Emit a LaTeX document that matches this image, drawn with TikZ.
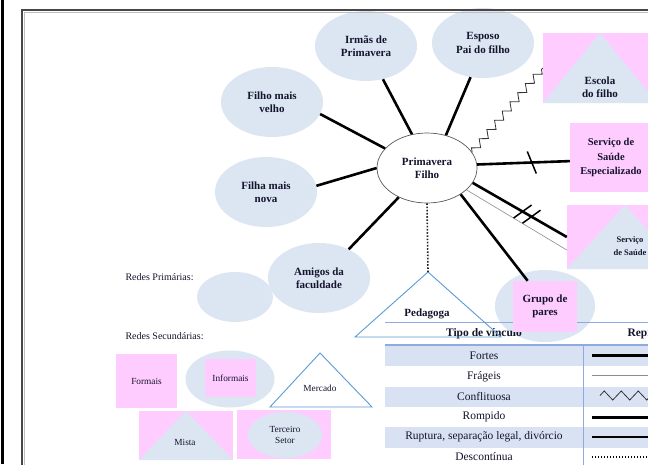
\documentclass[tikz,border=0pt]{standalone}
\usepackage{fontspec}
\setmainfont{Liberation Serif}
\usetikzlibrary{shapes.geometric,decorations.pathmorphing,calc}

\definecolor{bluefill}{RGB}{220,230,242}
\definecolor{pinkfill}{RGB}{255,204,255}
\definecolor{triline}{RGB}{91,155,213}
\definecolor{rowfill}{RGB}{217,226,243}
\definecolor{tblrule}{RGB}{143,170,220}
\definecolor{ink}{RGB}{20,20,45}

\begin{document}
\begin{tikzpicture}[x=1pt,y=-1pt,
  lbl/.style={font=\fontsize{11}{13.5}\selectfont\bfseries, text=ink, align=center},
  small/.style={font=\fontsize{9.3}{10.5}\selectfont, text=ink, align=center},
  cell/.style={font=\fontsize{11.5}{13}\selectfont, text=ink},
  hdr/.style={font=\fontsize{11.5}{13}\selectfont\bfseries, text=ink},
  person/.style={ellipse, fill=bluefill, minimum width=102pt, minimum height=70pt, inner sep=0pt, lbl},
  pinkbox/.style={rectangle, fill=pinkfill, inner sep=0pt},
  pinktri/.style={pinkbox, path picture={
      \fill[bluefill] (path picture bounding box.south west)
        -- (path picture bounding box.north)
        -- (path picture bounding box.south east) -- cycle;}},
  tri/.style={draw=triline, line width=0.9pt, line join=miter},
  strong/.style={line width=2.6pt, black},
  weak/.style={line width=0.6pt, black!45},
  cutmark/.style={line width=1.5pt, black},
  conflict/.style={line width=0.8pt, black!80, decorate,
      decoration={zigzag, segment length=12pt, amplitude=3.5pt}},
  dotline/.style={line width=1.6pt, black!85, dash pattern=on 1.6pt off 1.6pt}
]
\useasboundingbox (0,0) rectangle (648,464);
\clip (0,0) rectangle (648,464);
\fill[white] (0,0) rectangle (648,464);

% peer group circle sits beneath the table rules
\node[person, minimum width=100pt, minimum height=72pt] (grupo) at (545,306) {};

% ---- table of tie types ----
\fill[rowfill] (385,345.5) rectangle (740,366);
\fill[rowfill] (385,386.5) rectangle (740,407);
\fill[rowfill] (385,427) rectangle (740,447.5);
\draw[tblrule, line width=0.8pt] (385,322.5) -- (740,322.5);
\draw[tblrule, line width=1.6pt] (385,345) -- (740,345);
\draw[tblrule, line width=0.6pt] (583,345) -- (583,467);
\node[hdr] (thtipo) at (484,334) {Tipo de vínculo};
\node[hdr, anchor=west] (threp) at (624,334) {Representação};
\node[cell] (rfortes) at (484,356) {Fortes};
\node[cell] (rfrageis) at (484,376.5) {Frágeis};
\node[cell] (rconfl) at (484,396.5) {Conflituosa};
\node[cell] (rromp) at (484,417) {Rompido};
\node[cell] (rrupt) at (484,437) {Ruptura, separação legal, divórcio};
\node[cell] (rdesc) at (484,457) {Descontínua};
\draw[line width=2.8pt] (592,355.5) -- (720,355.5);
\draw[line width=0.6pt, black!45] (592,375.5) -- (720,375.5);
\draw[line width=0.8pt, black!80, decorate,
      decoration={zigzag, segment length=17pt, amplitude=4.5pt}] (600,395.5) -- (720,395.5);
\draw[line width=2.8pt] (592,417.5) -- (720,417.5);
\draw[line width=2.2pt] (592,437) -- (720,437);
\draw[line width=1.4pt, dash pattern=on 1.4pt off 1.6pt] (592,457) -- (720,457);

% ---- Pedagoga ----
\coordinate (pedtop) at (428,272);
\draw[tri] (pedtop) -- (355,337) -- (501,337) -- cycle;
\node[lbl] (pedtxt) at (427,314) {Pedagoga};

% ---- network members ----
\node[person] (irmas) at (366,46) {Irmãs de\\Primavera};
\node[person] (esposo) at (483,43) {Esposo\\Pai do filho};
\node[person] (fmv) at (272,102) {Filho mais\\velho};
\node[person] (fmn) at (266,192) {Filha mais\\nova};
\node[person] (amigos) at (319,278) {Amigos da\\faculdade};
\node[person, minimum width=76pt, minimum height=50pt] (primblank) at (235,297) {};
\node[pinkbox, minimum width=64pt, minimum height=51pt, lbl] (gbox) at (545,306.5) {Grupo de\\pares};

\node[pinktri, minimum width=114pt, minimum height=70pt] (escola) at (600,68) {};
\node[lbl] (escolatxt) at (600,87) {Escola\\do filho};
\node[pinkbox, minimum width=82pt, minimum height=69pt, lbl,
      font=\fontsize{10.5}{14.5}\selectfont\bfseries] (espec) at (611,157.5) {Serviço de\\Saúde\\Especializado};
\node[pinktri, minimum width=116pt, minimum height=64pt] (saude) at (625,237) {};
\node[lbl, font=\fontsize{8.5}{13}\selectfont\bfseries] (saudetxt) at (630,246.5) {Serviço\\de Saúde};

\node[ellipse, draw=black!65, line width=0.7pt, fill=white, minimum width=100pt,
      minimum height=70pt, inner sep=0pt, lbl] (ego) at (427,168) {Primavera\\Filho};

% ---- ties ----
\draw[strong] (ego.114) -- (irmas.-63);
\draw[strong] (ego.60) -- (esposo.-110);
\draw[strong] (ego.155) -- (fmv.-14);
\draw[strong] (ego.180) -- (fmn.7);
\draw[strong] (ego.-134) -- (amigos.44);
\draw[conflict] (ego.19) -- (escola.west);
\draw[strong] (ego.4) -- (espec.185) coordinate[pos=0.59] (cut1);
\draw[cutmark] (cut1) ++(-4.5,-11) -- ++(9,22);
\draw[weak] (ego.-29) -- ([yshift=-13pt]saude.west);
\draw[strong] (ego.-18) -- (saude.west) coordinate[pos=0.53] (cut2) coordinate[pos=0.625] (cut3);
\draw[cutmark] (cut2) ++(-9,6.5) -- ++(18,-13);
\draw[cutmark] (cut3) ++(-9,6.5) -- ++(18,-13);
\draw[strong] (ego.-38) -- (gbox.124);
\draw[dotline] (ego.south) -- (pedtop);

% ---- legend ----
\node[anchor=west, font=\fontsize{10}{12}\selectfont, text=ink] (legprim) at (122,277) {Redes Primárias:};
\node[anchor=west, font=\fontsize{10}{12}\selectfont, text=ink] (legsec) at (122,336) {Redes Secundárias:};
\node[pinkbox, minimum width=61pt, minimum height=54pt, small] (formais) at (146.5,381) {Formais};
\node[ellipse, fill=bluefill, minimum width=89pt, minimum height=57pt] (inf) at (230,379) {};
\node[pinkbox, minimum width=51pt, minimum height=38pt, small] (infbox) at (230.5,378) {Informais};
\coordinate (mtop) at (320,353);
\draw[tri] (mtop) -- (270,407) -- (372,407) -- cycle;
\node[small] (merc) at (320,388) {Mercado};
\node[pinktri, minimum width=94pt, minimum height=49pt] (mista) at (186,435.5) {};
\node[small] (mistatxt) at (185,442) {Mista};
\node[pinkbox, minimum width=94pt, minimum height=49pt] (terc) at (284,434.5) {};
\node[ellipse, fill=bluefill, minimum width=74pt, minimum height=46pt, inner sep=0pt, small] (tercel) at (285,435) {Terceiro\\Setor};

% ---- page frame ----
\fill[black] (0.8,0) rectangle (3.6,464);
\draw[black!25, line width=1pt] (24,466) -- (24,12) -- (650,12);
\draw[black!72, line width=1.6pt] (22,466) -- (22,10) -- (650,10);
\end{tikzpicture}
\end{document}
